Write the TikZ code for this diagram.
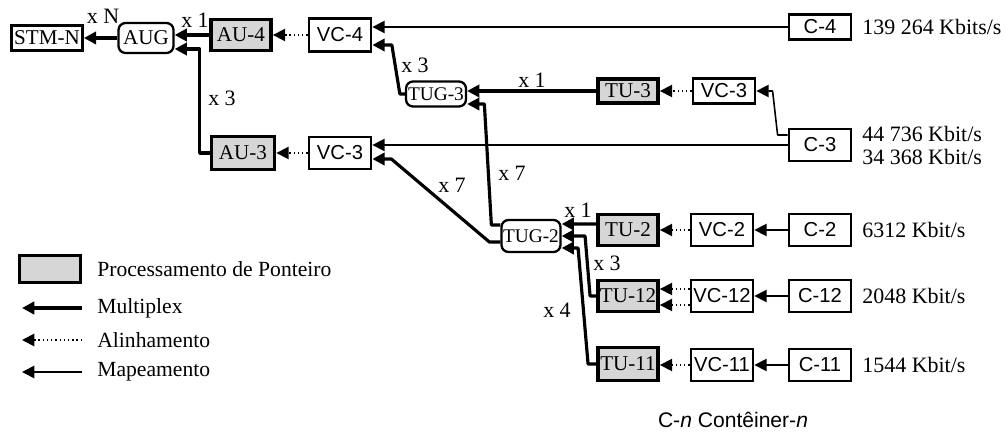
\documentclass[tikz,border=0pt]{standalone}
\usepackage{fontspec}
\setmainfont{Liberation Serif}
\setsansfont{Liberation Sans}
\usepackage{tikz}
\usetikzlibrary{arrows.meta}
\definecolor{pointergray}{HTML}{D6D6D6}

\begin{document}
\begin{tikzpicture}[
  x=0.02cm, y=-0.02cm,
  plainbox/.style={draw, line width=1.6pt, minimum width=1.24cm, minimum height=0.64cm,
                   inner sep=0pt, font=\sffamily\fontsize{11.5}{14}\selectfont},
  ptrbox/.style={draw, line width=2.2pt, fill=pointergray, minimum width=1.2cm,
                 minimum height=0.62cm, inner sep=0pt, font=\fontsize{12}{14}\selectfont},
  groupbox/.style={draw, line width=1.3pt, rounded corners=4pt, minimum width=1.1cm,
                   minimum height=0.6cm, inner sep=0pt, font=\fontsize{12}{14}\selectfont},
  muxline/.style={line width=1.8pt, line join=round, -{Triangle[length=7pt,width=7pt]}},
  alignline/.style={line width=1pt, dash pattern=on 0.8pt off 1.6pt, -{Triangle[length=7pt,width=7pt]}},
  mapline/.style={line width=0.9pt, line join=round, -{Triangle[length=7pt,width=7pt]}},
  mult/.style={font=\fontsize{12.5}{15}\selectfont, inner sep=0pt},
  rate/.style={anchor=west, font=\fontsize{12.5}{15}\selectfont, inner sep=0pt},
  keytext/.style={anchor=west, font=\fontsize{12.3}{15}\selectfont, inner sep=0pt},
]
\useasboundingbox (0,0) rectangle (1005,432);

\node[plainbox, font=\fontsize{12}{14}\selectfont, minimum width=1.42cm, minimum height=0.5cm] (stmn) at (47,38) {STM-N};
\node[groupbox] (aug) at (146,38) {AUG};
\node[ptrbox] (au4) at (241,35) {AU-4};
\node[plainbox, minimum height=0.66cm] (vc4) at (340,35) {VC-4};
\node[plainbox, minimum height=0.5cm] (c4) at (820,27) {C-4};
\node[rate] (r4) at (862,27) {139 264 Kbits/s};

\node[groupbox, minimum width=1.2cm, minimum height=0.5cm, font=\fontsize{11}{14}\selectfont] (tug3) at (436,94) {TUG-3};
\node[ptrbox, minimum height=0.48cm] (tu3) at (628,91) {TU-3};
\node[plainbox, minimum height=0.5cm] (vc3b) at (724,91) {VC-3};
\node[plainbox] (c3) at (820,145) {C-3};
\node[rate] (r3a) at (862,134) {44 736 Kbit/s};
\node[rate] (r3b) at (862,157) {34 368 Kbit/s};

\node[ptrbox, minimum width=1.26cm, minimum height=0.66cm] (au3) at (243,153) {AU-3};
\node[plainbox] (vc3a) at (340,153) {VC-3};

\node[groupbox, minimum width=1.18cm, minimum height=0.64cm, font=\fontsize{11}{14}\selectfont] (tug2) at (531,236) {TUG-2};
\node[ptrbox] (tu2) at (628,230) {TU-2};
\node[plainbox] (vc2) at (722,230) {VC-2};
\node[plainbox] (c2) at (820,230) {C-2};
\node[rate] (r2) at (862,230) {6312 Kbit/s};
\node[ptrbox] (tu12) at (628,296) {TU-12};
\node[plainbox] (vc12) at (722,296) {VC-12};
\node[plainbox] (c12) at (820,296) {C-12};
\node[rate] (r12) at (862,296) {2048 Kbit/s};
\node[ptrbox, minimum height=0.66cm] (tu11) at (628,364) {TU-11};
\node[plainbox] (vc11) at (722,365) {VC-11};
\node[plainbox] (c11) at (820,365) {C-11};
\node[rate] (r11) at (862,365) {1544 Kbit/s};

\node[mult] (xn) at (103,16) {x N};
\node[mult] (xau4) at (195,20) {x 1};
\node[mult] (xau3) at (222,98) {x 3};
\node[mult] (xtug3) at (415,65) {x 3};
\node[mult] (xtu3) at (532,80) {x 1};
\node[mult] (xtug2a) at (512,173) {x 7};
\node[mult] (xtug2b) at (452,185) {x 7};
\node[mult] (xtu2) at (578,210) {x 1};
\node[mult] (xtu12) at (607,263) {x 3};
\node[mult] (xtu11) at (557,310) {x 4};

\draw[muxline] (aug.west) -- (stmn.east);
\draw[muxline] (au4.west) -- (au4.west -| aug.east);
\draw[muxline] (au3.west) -- ++(-10,0) |- ([yshift=-0.22cm]aug.east);
\draw[alignline] (vc4.west) -- (au4.east);
\draw[mapline] (c4.west) -- (c4.west -| vc4.east);
\draw[muxline] (tug3.west) -- ++(-5,0) -- ++(-8,-49) -- ([yshift=-0.2cm]vc4.east);
\draw[muxline] (tu3.west) -- (tu3.west -| tug3.east);
\draw[muxline] ([yshift=0.22cm]tug2.west) -- ++(-9,0) -- ++(-7,-121) -- ([yshift=-0.2cm]tug3.east);
\draw[alignline] (vc3b.west) -- (tu3.east);
\draw[mapline] ([yshift=0.2cm]c3.west) -- ++(-10,0) -- ++(-5,-44) -- (vc3b.east);
\draw[mapline] (c3.west) -- (c3.west -| vc3a.east);
\draw[alignline] (vc3a.west) -- (au3.east);
\draw[muxline] ([yshift=-0.12cm]tug2.west) -- ++(-11,0) -- ++(-98,-83) -- ([yshift=-0.12cm]vc3a.east);
\draw[muxline] ([yshift=0.12cm]tu2.west) -- ([yshift=0.24cm]tug2.east);
\draw[muxline] (tu12.west) -- ++(-6,0) -- ++(-5,-60) -- (tug2.east);
\draw[muxline] (tu11.west) -- ++(-8,0) -- ++(-10,-116) -- ([yshift=-0.24cm]tug2.east);
\draw[alignline] (vc2.west) -- (tu2.east);
\draw[mapline] (c2.west) -- (vc2.east);
\draw[alignline] ([yshift=0.14cm]vc12.west) -- ([yshift=0.14cm]tu12.east);
\draw[alignline] ([yshift=-0.18cm]vc12.west) -- ([yshift=-0.18cm]tu12.east);
\draw[mapline] (c12.west) -- (vc12.east);
\draw[alignline] (vc11.west) -- (vc11.west -| tu11.east);
\draw[mapline] (c11.west) -- (vc11.east);

\node[ptrbox, minimum width=1.22cm, minimum height=0.54cm] (keybox) at (50,269) {};
\node[keytext] (kptr) at (97,269) {Processamento de Ponteiro};
\node[keytext] (kmux) at (97,308) {Multiplex};
\node[keytext] (kalign) at (97,340) {Alinhamento};
\node[keytext] (kmap) at (97,372) {Mapeamento};
\draw[muxline] ([xshift=-0.3cm]kmux.west) -- ++(-60,0);
\draw[alignline] ([xshift=-0.3cm]kalign.west) -- ++(-60,0);
\draw[mapline] ([xshift=-0.3cm]kmap.west) -- ++(-60,0);

\node[font=\sffamily\fontsize{12}{14}\selectfont] (cn) at (733,420) {C-\textit{n} Contêiner-\textit{n}};
\end{tikzpicture}
\end{document}
